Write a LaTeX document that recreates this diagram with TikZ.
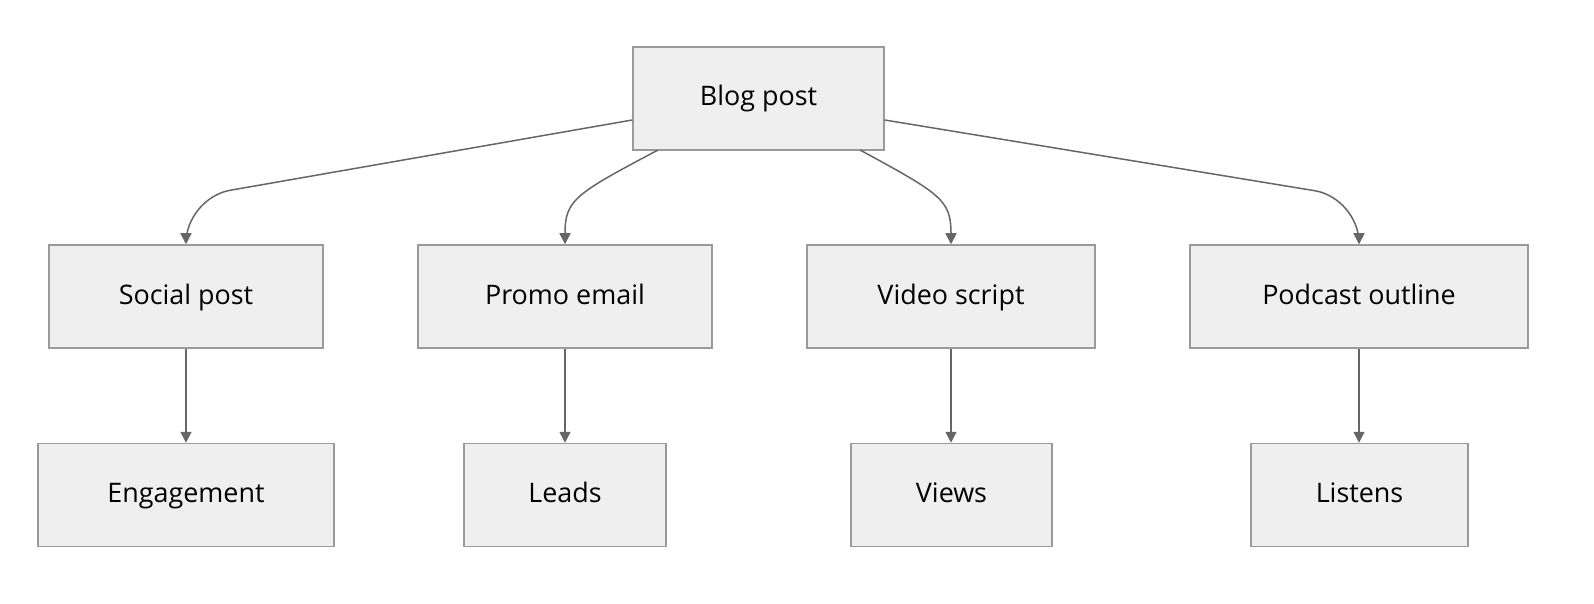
\documentclass[tikz,border=0pt]{standalone}
\usepackage{fontspec}
\setmainfont{Open Sans}
\usetikzlibrary{arrows.meta}
\definecolor{boxfill}{HTML}{EFEFEF}
\definecolor{boxdraw}{HTML}{9A9A9A}
\definecolor{edge}{HTML}{666666}
\begin{document}
\begin{tikzpicture}[x=1bp,y=-1bp,
  box/.style={draw=boxdraw,fill=boxfill,line width=1.5bp,minimum height=103bp,inner sep=0pt,text height=20bp,text depth=5bp,font=\fontsize{27}{30}\selectfont},
  arr/.style={draw=edge,line width=1.5bp,-{Triangle[length=11bp,width=11bp]}},
  carr/.style={arr,rounded corners=45bp}]
\useasboundingbox (0,0) rectangle (1594,604);
\node[box,minimum width=251bp] (blog) at (758.5,98.5) {Blog post};
\node[box,minimum width=274bp] (social) at (186,296.5) {Social post};
\node[box,minimum width=294bp] (promo) at (565,296.5) {Promo email};
\node[box,minimum width=288bp] (video) at (951,296.5) {Video script};
\node[box,minimum width=338bp] (pod) at (1359,296.5) {Podcast outline};
\node[box,minimum width=296bp] (eng) at (186,495) {Engagement};
\node[box,minimum width=202bp] (leads) at (565,495) {Leads};
\node[box,minimum width=201bp] (views) at (951.5,495) {Views};
\node[box,minimum width=217bp] (list) at (1359.5,495) {Listens};
\coordinate (c1) at (186,198);
\coordinate (c4) at (1359,198);
\coordinate (p0) at (658,150);
\coordinate (v0) at (860,150);
\draw[carr] (blog.west |- 0,120) -- (c1) -- (social.north);
\draw[arr] (p0) .. controls (575,194) and (565,200) .. (promo.north);
\draw[arr] (v0) .. controls (941,194) and (951,200) .. (video.north);
\draw[carr] (blog.east |- 0,120) -- (c4) -- (pod.north);
\draw[arr] (social) -- (eng);
\draw[arr] (promo) -- (leads);
\draw[arr] (video.south) -- (video.south |- views.north);
\draw[arr] (pod.south) -- (pod.south |- list.north);
\end{tikzpicture}
\end{document}
